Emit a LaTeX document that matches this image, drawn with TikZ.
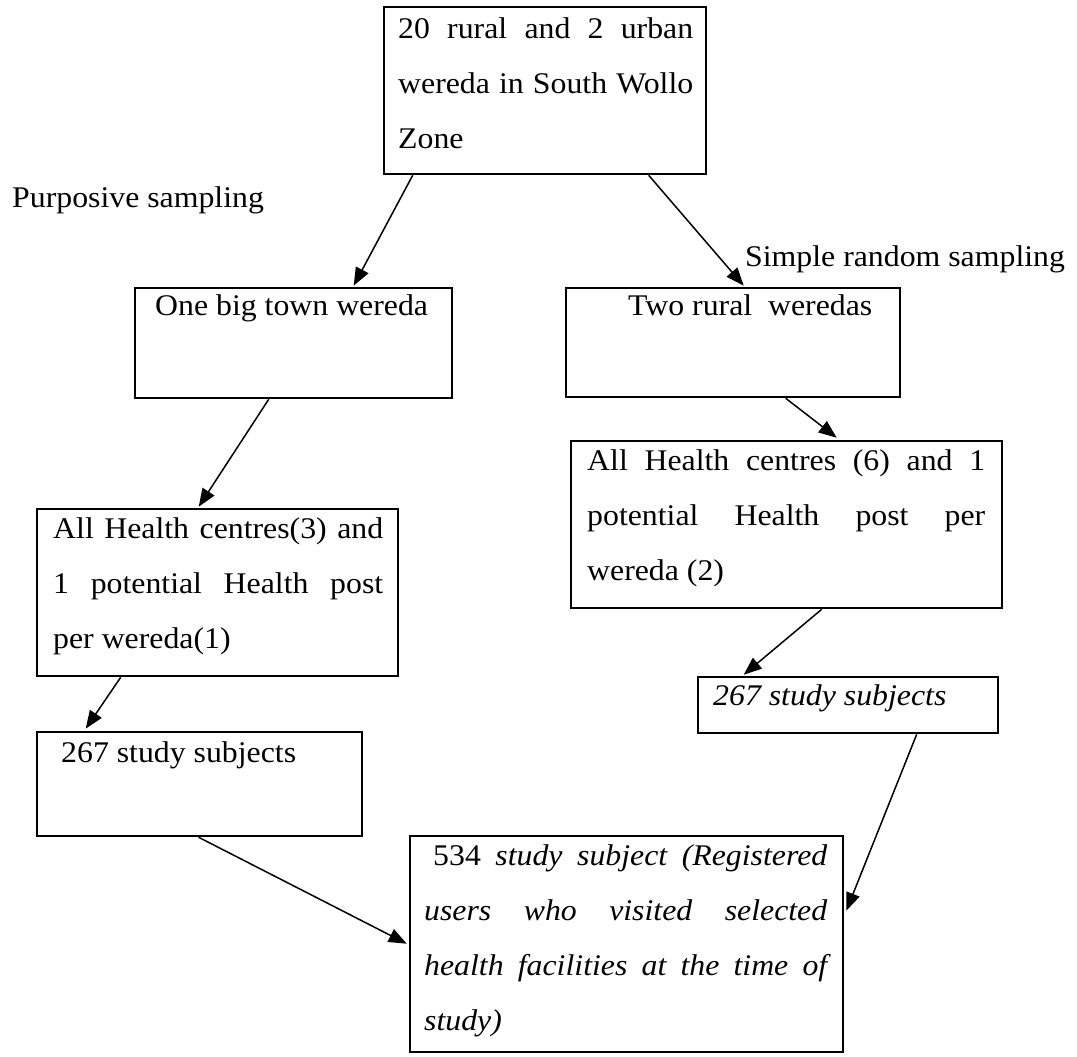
\documentclass[tikz,border=0pt]{standalone}
\usepackage{fontspec}
\setmainfont{Liberation Serif}[FakeStretch=1.06]
\usetikzlibrary{arrows.meta,calc}
\begin{document}
\begin{tikzpicture}[x=1pt,y=-1pt,
  box/.style={draw,line width=2.6pt,inner sep=0pt},
  txt/.style={inner sep=0pt,anchor=north west,align=left,font=\fontsize{30}{55}\selectfont},
  lbl/.style={inner sep=0pt,anchor=base west,font=\fontsize{30}{55}\selectfont},
  arr/.style={line width=1.5pt,-{Triangle[length=18pt,width=14pt]}}]
\useasboundingbox[fill=white] (0,0) rectangle (1077,1057);

% boxes
\node[box,minimum width=322pt,minimum height=167pt] (A) at (545,90.5) {};
\node[box,minimum width=317pt,minimum height=110pt] (B) at (293.5,343) {};
\node[box,minimum width=334pt,minimum height=109pt] (C) at (733,342.5) {};
\node[box,minimum width=361pt,minimum height=167pt] (D) at (217.5,592.5) {};
\node[box,minimum width=431pt,minimum height=167pt] (E) at (786.5,524.5) {};
\node[box,minimum width=325pt,minimum height=104pt] (F) at (199.5,784) {};
\node[box,minimum width=300pt,minimum height=56pt] (G) at (848,705) {};
\node[box,minimum width=433pt,minimum height=216pt] (H) at (626.5,944) {};

% texts
\node[txt] (tA) at (398,-0.5) {\strut\makebox[295pt][s]{20 rural and 2 urban}\\\makebox[295pt][s]{wereda in South Wollo}\\Zone};
\node[txt] (tB) at (155,276.5) {\strut One big town wereda};
\node[txt] (tC) at (628,276.5) {\strut Two rural\ \ weredas};
\node[txt] (tD) at (53,499.5) {\strut\makebox[330pt][s]{All Health centres(3) and}\\\makebox[330pt][s]{1 potential Health post}\\per wereda(1)};
\node[txt] (tE) at (587,431.5) {\strut\makebox[398pt][s]{All Health centres (6) and 1}\\\makebox[398pt][s]{potential Health post per}\\wereda (2)};
\node[txt] (tF) at (61,723.5) {\strut 267 study subjects};
\node[txt] (tG) at (713,666.5) {\strut\itshape 267 study subjects};
\node[txt] (tH) at (424,826.5) {\strut\makebox[403pt][s]{\hspace*{9pt}534 \itshape study subject (Registered}\\\makebox[403pt][s]{\itshape users who visited selected}\\\makebox[403pt][s]{\itshape health facilities at the time of}\\\textit{study)}};

% labels
\node[lbl] (lP) at (12,207) {Purposive sampling};
\node[lbl] (lS) at (745,266) {Simple random sampling};

% connectors
\draw[arr] ($(A.south west)+(30,0)$) -- ($(B.north west)+(220,-1)$);
\draw[arr] ($(A.south west)+(266,0)$) -- ($(C.north west)+(179,-1)$);
\draw[arr] ($(B.south west)+(135,0)$) -- ($(D.north west)+(163,-1)$);
\draw[arr] ($(C.south west)+(221,0)$) -- ($(E.north west)+(267,-2)$);
\draw[arr] ($(E.south west)+(252,0)$) -- ($(G.north west)+(47,-1)$);
\draw[arr] ($(D.south west)+(85,0)$) -- ($(F.north west)+(50,-2)$);
\draw[arr] ($(F.south west)+(163,0)$) -- ($(H.north west)+(-2,109)$);
\draw[arr] ($(G.south west)+(220,0)$) -- ($(H.north east)+(2,76)$);
\end{tikzpicture}
\end{document}
